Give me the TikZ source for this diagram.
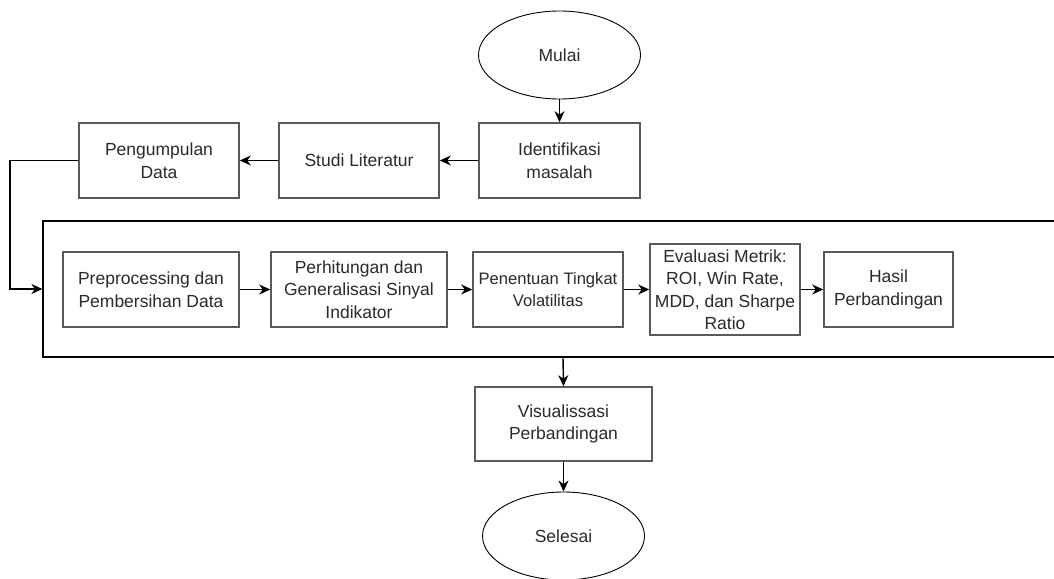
\documentclass[tikz,border=0pt]{standalone}
\usepackage{fontspec}
\setmainfont{Liberation Sans}
\usetikzlibrary{arrows.meta,shapes.geometric}
\definecolor{boxline}{HTML}{5A5A5A}
\definecolor{txt}{HTML}{2A2A2A}
\begin{document}
\begin{tikzpicture}[x=1pt,y=-1pt,
  every node/.style={font=\fontsize{17.5}{22.5}\selectfont, text=txt, align=center, inner sep=0pt},
  procbox/.style={draw=boxline, line width=1.6pt, fill=white, minimum height=75pt},
  narrowtext/.style={font=\fontsize{16.6}{22.5}\selectfont},
  term/.style={draw=black, line width=0.9pt, ellipse, minimum width=162pt, minimum height=88pt},
  frame/.style={draw=black, line width=1.2pt, minimum width=1040pt, minimum height=136pt},
  conn/.style={draw=black, line width=1.4pt, -{Stealth[length=11pt,width=10pt,inset=3.5pt]}}]
\useasboundingbox (0,0) rectangle (1054,578);
\node[frame] (cont) at (563,289) {};
\node[term] (mulai) at (559.5,55) {Mulai};
\node[procbox, minimum width=161pt] (ident) at (559.5,160.5) {Identifikasi\\masalah};
\node[procbox, minimum width=160pt] (studi) at (359,160.5) {Studi Literatur};
\node[procbox, minimum width=160pt] (pengum) at (159,160.5) {Pengumpulan\\Data};
\node[procbox, minimum width=176pt] (prep) at (151,289.5) {Preprocessing dan\\Pembersihan Data};
\node[procbox, minimum width=176pt] (perh) at (359,289.5) {Perhitungan dan\\Generalisasi Sinyal\\Indikator};
\node[procbox, narrowtext, minimum width=150pt] (pen) at (548,289.5) {Penentuan Tingkat\\Volatilitas};
\node[procbox, minimum width=150pt, minimum height=91pt] (eval) at (725,289.5) {Evaluasi Metrik:\\ROI, Win Rate,\\MDD, dan Sharpe\\Ratio};
\node[procbox, minimum width=129pt] (hasil) at (888.5,289.5) {Hasil\\Perbandingan};
\node[procbox, minimum width=177pt, minimum height=74pt] (vis) at (563.5,424) {Visualissasi\\Perbandingan};
\node[term] (selesai) at (563.5,536) {Selesai};
\coordinate (bend1) at (10,160.5);
\draw[conn] (mulai) -- (ident);
\draw[conn] (ident) -- (studi);
\draw[conn] (studi) -- (pengum);
\draw[conn] (pengum.west) -- (bend1) |- (cont.west);
\draw[conn] (prep) -- (perh);
\draw[conn] (perh) -- (pen);
\draw[conn] (pen) -- (eval);
\draw[conn] (eval) -- (hasil);
\draw[conn] (cont.south) -- (vis.north);
\draw[conn] (vis) -- (selesai);
\end{tikzpicture}
\end{document}
